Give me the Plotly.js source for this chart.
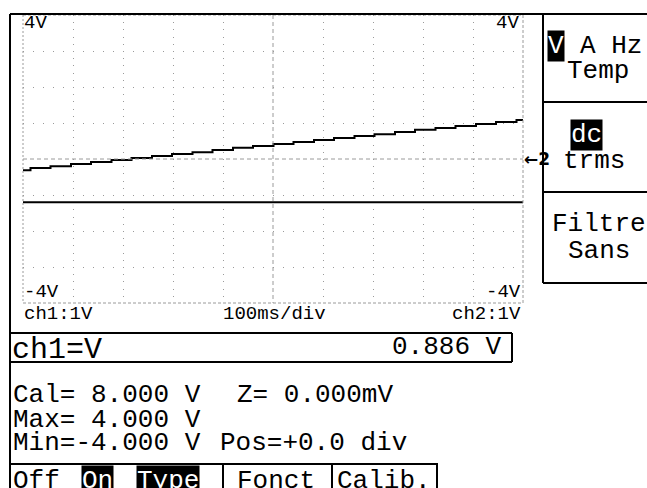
<!DOCTYPE html>
<html>
<head>
<meta charset="utf-8">
<script src="https://cdn.plot.ly/plotly-3.0.1.min.js"></script>
<style>
  html, body { margin: 0; padding: 0; background: #fff; }
  #scope { width: 647px; height: 488px; }
</style>
</head>
<body>
<div id="scope"></div>
<script>
// Channel 1 acquisition: a slow ramp sampled by the ADC (staircase), 100 ms/div
const ch1TimeMs = [0, 15, 55, 96, 136, 177, 217, 258, 298, 339, 379, 420, 460, 501,
                   541, 582, 622, 663, 703, 744, 784, 825, 865, 906, 946, 987, 1000];
const ch1Volts  = [-0.31, -0.25, -0.20, -0.14, -0.08, -0.03, 0.03, 0.08, 0.14, 0.19,
                   0.25, 0.31, 0.36, 0.42, 0.47, 0.53, 0.58, 0.64, 0.69, 0.75,
                   0.81, 0.86, 0.92, 0.97, 1.03, 1.08, 1.08];
// Channel 2: flat dc level
const ch2TimeMs = [0, 1000];
const ch2Volts  = [-1.2, -1.2];

// Screen grid: 10 horizontal divisions, 8 vertical divisions of 1 V
const timeTicks = [100, 200, 300, 400, 600, 700, 800, 900];
const voltTicks = [-3, -2, -1, 1, 2, 3];

// Readouts and menu labels shown on the instrument screen
const scaleLabels = { top: "4V", bottom: "-4V", ch1: "ch1:1V", ch2: "ch2:1V", timebase: "100ms/div" };
const groundMarker = "\u21902";
const measureName = "ch1=V";
const measureValue = "0.886 V";
const infoLines = ["Cal= 8.000 V", "Z= 0.000mV", "Max= 4.000 V", "Min=-4.000 V", "Pos=+0.0 div"];
const menuUnits = ["V", "A Hz", "Temp"];
const menuCoupling = ["dc", "trms"];
const menuFilter = ["Filtre", "Sans"];
const softKeys = ["Off", "On", "Type", "Fonct", "Calib."];

// ---- screen geometry (pixels) ----
const W = 647, H = 488;
const PL = 23, PT = 15, PW = 500, PH = 288;
const px = x => (x - PL) / PW;          // pixel x -> paper x
const py = y => 1 - (y - PT) / PH;       // pixel y -> paper y

const MONO = "Liberation Mono, DejaVu Sans Mono, monospace";
const GRAY = "#9a9a9a";

function seg(x0, y0, x1, y1, color, width, dash) {
  return { type: "line", xref: "paper", yref: "paper",
           x0: px(x0), y0: py(y0), x1: px(x1), y1: py(y1),
           line: { color: color, width: width, dash: dash || "solid" }, layer: "above" };
}
function txt(text, x, y, size, opts) {
  opts = opts || {};
  return {
    text: text, xref: "paper", yref: "paper", x: px(x), y: py(y),
    xanchor: opts.anchor || "left", yanchor: "middle", showarrow: false,
    font: { family: opts.family || MONO, size: size, color: opts.color || "#000",
            weight: opts.weight || "normal" },
    bgcolor: opts.bg || "rgba(0,0,0,0)", borderpad: opts.pad === undefined ? 1 : opts.pad
  };
}

const shapes = [
  // dashed border of the graticule and its centre cross
  seg(23, 15, 523, 15, GRAY, 1, "3px,2px"),
  seg(23, 303, 523, 303, GRAY, 1, "3px,2px"),
  seg(23, 15, 23, 303, GRAY, 1, "2px,2px"),
  seg(523, 15, 523, 303, GRAY, 1, "3px,2px"),
  seg(23, 159, 523, 159, GRAY, 1, "4px,3px"),
  seg(273, 15, 273, 303, GRAY, 1, "4px,3px"),
  // black frame of the screen
  seg(10, 14, 647, 14, "#000", 2),
  seg(10, 14, 10, 488, "#000", 2),
  seg(543, 14, 543, 283, "#000", 2),
  seg(543, 102, 647, 102, "#000", 2),
  seg(543, 192, 647, 192, "#000", 2),
  seg(543, 283, 647, 283, "#000", 2),
  // measurement box
  seg(10, 333, 512, 333, "#000", 2),
  seg(10, 362, 512, 362, "#000", 2),
  seg(512, 333, 512, 362, "#000", 2),
  // soft-key row
  seg(10, 464, 438, 464, "#000", 2),
  seg(223, 464, 223, 488, "#000", 2),
  seg(332, 464, 332, 488, "#000", 2),
  seg(437, 464, 437, 488, "#000", 2)
];

const inv = { bg: "#000", color: "#fff", pad: 0 };
const annotations = [
  txt(scaleLabels.top, 22, 23, 19),
  txt(scaleLabels.top, 521, 23, 19, { anchor: "right" }),
  txt(scaleLabels.bottom, 22, 292, 19),
  txt(scaleLabels.bottom, 523, 292, 19, { anchor: "right" }),
  txt(scaleLabels.ch1, 22, 314, 19),
  txt(scaleLabels.timebase, 221, 314, 19),
  txt(scaleLabels.ch2, 523, 314, 19, { anchor: "right" }),
  txt(groundMarker, 523, 159, 17, { family: "DejaVu Sans", weight: "bold", pad: 0 }),

  txt(measureName, 10, 350, 30),
  txt(measureValue, 504, 347, 26, { anchor: "right" }),

  txt(infoLines[0], 11, 395, 26),
  txt(infoLines[1], 235, 395, 26),
  txt(infoLines[2], 11, 420, 26),
  txt(infoLines[3], 11, 443, 26),
  txt(infoLines[4], 218, 443, 26),

  txt(menuUnits[0], 547, 46, 26, inv),
  txt(menuUnits[1], 578, 46, 26),
  txt(menuUnits[2], 565, 71, 26),
  txt(menuCoupling[0], 570, 135, 26, inv),
  txt(menuCoupling[1], 561, 161, 26),
  txt(menuFilter[0], 550, 224, 26),
  txt(menuFilter[1], 566, 251, 26),

  txt(softKeys[0], 11, 481, 26),
  txt(softKeys[1], 81, 481, 26, inv),
  txt(softKeys[2], 136, 481, 26, inv),
  txt(softKeys[3], 235, 481, 26),
  txt(softKeys[4], 335, 481, 26)
];

const traces = [
  { x: ch1TimeMs, y: ch1Volts, type: "scatter", mode: "lines", name: "ch1",
    line: { color: "#000", width: 2, shape: "hv" }, hoverinfo: "skip" },
  { x: ch2TimeMs, y: ch2Volts, type: "scatter", mode: "lines", name: "ch2",
    line: { color: "#000", width: 2 }, hoverinfo: "skip" }
];

const layout = {
  width: W, height: H,
  margin: { l: PL, r: W - PL - PW, t: PT, b: H - PT - PH, pad: 0 },
  paper_bgcolor: "#fff", plot_bgcolor: "#fff",
  showlegend: false,
  xaxis: { range: [0, 1000], tickvals: timeTicks, showticklabels: false, ticks: "",
           showgrid: true, gridcolor: GRAY, gridwidth: 1, griddash: "1px,6.2px",
           zeroline: false, showline: false, fixedrange: true },
  yaxis: { range: [-4, 4], tickvals: voltTicks, showticklabels: false, ticks: "",
           showgrid: true, gridcolor: GRAY, gridwidth: 1, griddash: "1px,9px",
           zeroline: false, showline: false, fixedrange: true },
  shapes: shapes,
  annotations: annotations
};

Plotly.newPlot("scope", traces, layout, { staticPlot: true, displayModeBar: false });
</script>
</body>
</html>
